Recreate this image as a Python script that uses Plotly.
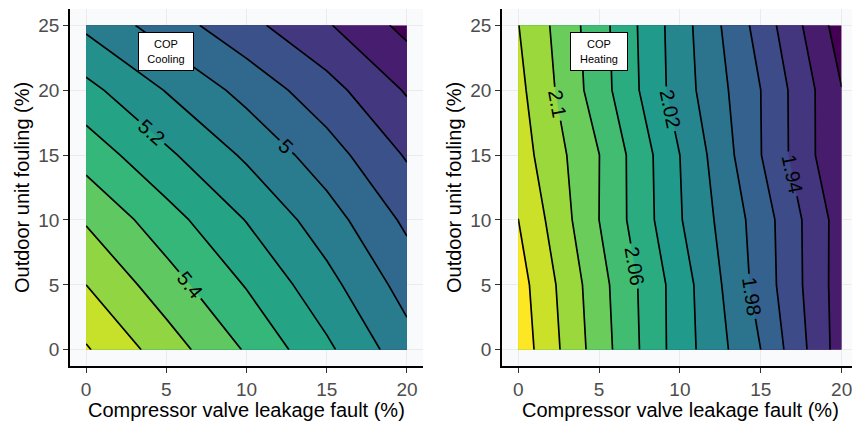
import plotly.graph_objects as go

# ---------------- data ----------------
leak_pct = [0, 5, 10, 15, 20]            # Compressor valve leakage fault (%)
fouling_pct = [0, 5, 10, 15, 20, 25]     # Outdoor unit fouling (%)

# rows = fouling, columns = leakage
cop_cooling = [
    [5.710, 5.550, 5.390, 5.220, 5.040],
    [5.600, 5.445, 5.293, 5.133, 4.960],
    [5.490, 5.341, 5.196, 5.045, 4.880],
    [5.360, 5.219, 5.084, 4.945, 4.790],
    [5.230, 5.095, 4.967, 4.838, 4.690],
    [5.080, 4.950, 4.830, 4.710, 4.570],
]
cop_heating = [
    [2.1522, 2.0900, 2.0300, 1.9800, 1.9100],
    [2.1485, 2.0875, 2.0300, 1.9720, 1.9100],
    [2.1402, 2.0800, 2.0215, 1.9705, 1.9105],
    [2.1297, 2.0803, 2.0200, 1.9605, 1.9005],
    [2.1255, 2.0695, 2.0100, 1.9600, 1.9005],
    [2.1205, 2.0680, 2.0090, 1.9520, 1.8900],
]

x_ticks = [0, 5, 10, 15, 20]
y_ticks = [0, 5, 10, 15, 20, 25]

cool_levels = dict(start=4.6, end=5.7, size=0.1)
cool_labeled = dict(start=5.0, end=5.4, size=0.2)
cool_unlabeled = [dict(start=4.7, end=5.7, size=0.2), dict(start=4.6, end=5.6, size=1.0),
                  dict(start=4.8, end=4.8, size=0.2)]

heat_levels = dict(start=1.90, end=2.14, size=0.02)
heat_labeled = dict(start=1.94, end=2.10, size=0.04)
heat_unlabeled = [dict(start=1.92, end=2.12, size=0.04), dict(start=1.90, end=2.14, size=0.24)]

panel_text = ["COP<br>Cooling", "COP<br>Heating"]
x_title = "Compressor valve leakage fault (%)"
y_title = "Outdoor unit fouling (%)"

EPS = 1e-6
FONT = "Liberation Sans, Arial, sans-serif"
LINE_W = 1.7

fig = go.Figure()


def add_panel(z, levels, labeled, unlabeled, xa, ya):
    fig.add_trace(go.Contour(
        x=leak_pct, y=fouling_pct, z=z, xaxis=xa, yaxis=ya,
        autocontour=False,
        contours=dict(start=levels["start"], end=levels["end"] + EPS, size=levels["size"],
                      coloring="fill", showlines=False),
        colorscale="Viridis", showscale=False, line=dict(width=0, smoothing=0),
        hoverinfo="skip"))
    for lv in unlabeled:
        fig.add_trace(go.Contour(
            x=leak_pct, y=fouling_pct, z=z, xaxis=xa, yaxis=ya,
            autocontour=False,
            contours=dict(start=lv["start"], end=lv["end"] + EPS, size=lv["size"],
                          coloring="none", showlines=True),
            showscale=False, line=dict(width=LINE_W, color="black", smoothing=0),
            hoverinfo="skip"))
    fig.add_trace(go.Contour(
        x=leak_pct, y=fouling_pct, z=z, xaxis=xa, yaxis=ya,
        autocontour=False,
        contours=dict(start=labeled["start"], end=labeled["end"] + EPS, size=labeled["size"],
                      coloring="none", showlines=True, showlabels=True,
                      labelfont=dict(size=20, color="black", family=FONT)),
        showscale=False, line=dict(width=LINE_W, color="black", smoothing=0),
        hoverinfo="skip"))


add_panel(cop_cooling, cool_levels, cool_labeled, cool_unlabeled, "x", "y")
add_panel(cop_heating, heat_levels, heat_labeled, heat_unlabeled, "x2", "y2")

W, H = 852, 424
MT, MB = 9, 58
axis_common = dict(showgrid=True, gridcolor="#EBEBEB", gridwidth=1, zeroline=False,
                   showline=True, linecolor="black", linewidth=1.8,
                   ticks="outside", ticklen=5, tickcolor="#333333", tickwidth=1.2,
                   ticklabeloverflow="allow",
                   tickfont=dict(size=19, color="#4D4D4D", family=FONT))

fig.update_layout(
    width=W, height=H,
    margin=dict(l=0, r=0, t=MT, b=MB),
    paper_bgcolor="white", plot_bgcolor="#F9FAFC",
    showlegend=False,
    font=dict(family=FONT),
    xaxis=dict(domain=[70 / W, 423 / W], range=[-1, 21], tickvals=x_ticks, anchor="y", **axis_common),
    yaxis=dict(domain=[0, 1], range=[-1.25, 26.25], tickvals=y_ticks, anchor="x", **axis_common),
    xaxis2=dict(domain=[502 / W, 1.0], range=[-1, 20.64], tickvals=x_ticks, anchor="y2", **axis_common),
    yaxis2=dict(domain=[0, 1], range=[-1.25, 26.25], tickvals=y_ticks, anchor="x2", **axis_common),
)


def py(Y):
    # pixel row -> paper y (paper spans the area inside the margins)
    return (H - MB - Y) / (H - MT - MB)


annotations = []
for txt, xr, yr, w in [(panel_text[0], "x", "y", 46), (panel_text[1], "x2", "y2", 48)]:
    annotations.append(dict(text=txt, x=5, y=23, xref=xr, yref=yr, showarrow=False,
                            bgcolor="white", bordercolor="black", borderwidth=1, borderpad=4,
                            width=w, height=29, align="center",
                            font=dict(size=11, color="black", family=FONT)))
for cx in [246.5, 680.5]:
    annotations.append(dict(text=x_title, x=cx / W, y=py(410), xref="paper", yref="paper",
                            showarrow=False, xanchor="center", yanchor="middle",
                            font=dict(size=20, color="black", family=FONT)))
for cx in [22, 454]:
    annotations.append(dict(text=y_title, x=cx / W, y=py(188), xref="paper", yref="paper",
                            showarrow=False, xanchor="center", yanchor="middle", textangle=-90,
                            font=dict(size=20, color="black", family=FONT)))
fig.update_layout(annotations=annotations)

fig.write_html("out.html", config={"displayModeBar": False},
               post_script="document.body.style.margin='0px';")
